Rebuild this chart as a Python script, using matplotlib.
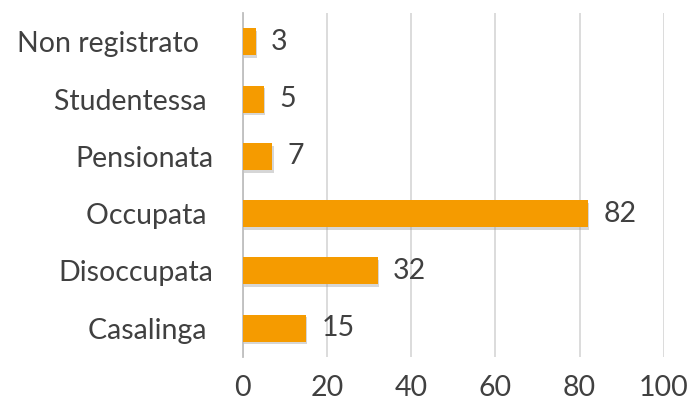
import matplotlib.pyplot as plt
import matplotlib.patheffects as pe

categories = ['Casalinga ', 'Disoccupata', 'Occupata ', 'Pensionata',
              'Studentessa ', 'Non registrato  ']
values = [15, 32, 82, 7, 5, 3]
xticks = [0, 20, 40, 60, 80, 100]

BAR_COLOR = '#F59B00'
TEXT_COLOR = '#404040'
FONT_SIZE = 20.5

plt.rcParams['font.family'] = ['Lato', 'DejaVu Sans']

fig = plt.figure(figsize=(6.9, 4.12), dpi=100)
ax = fig.add_axes([0.352, 0.134, 0.61, 0.834])

ypos = list(range(len(categories)))
bars = ax.barh(ypos, values, height=0.47, color=BAR_COLOR, zorder=3)
for bar in bars:
    bar.set_path_effects([
        pe.SimplePatchShadow(offset=(1, -2), shadow_rgbFace='#999999',
                             alpha=0.4),
        pe.Normal()])

for y, v in zip(ypos, values):
    ax.annotate(str(v), (v, y), xytext=(11, 0), textcoords='offset points',
                va='center', ha='left', fontsize=FONT_SIZE, color=TEXT_COLOR)

ax.set_xlim(0, 100)
ax.set_ylim(-0.5, len(categories) - 0.5)
ax.set_xticks(xticks)
ax.set_xticklabels([str(t) for t in xticks])
ax.set_yticks(ypos)
ax.set_yticklabels(categories)

ax.grid(axis='x', color='#D9D9D9', linewidth=1.3, zorder=0)
ax.set_axisbelow(True)
for side in ['top', 'right', 'bottom']:
    ax.spines[side].set_visible(False)
ax.spines['left'].set_color('#BFBFBF')
ax.spines['left'].set_linewidth(1.3)
ax.tick_params(axis='both', length=0, labelsize=FONT_SIZE,
               labelcolor=TEXT_COLOR)
ax.tick_params(axis='x', pad=13)
ax.tick_params(axis='y', pad=21)

fig.savefig('out.png', dpi=100)
